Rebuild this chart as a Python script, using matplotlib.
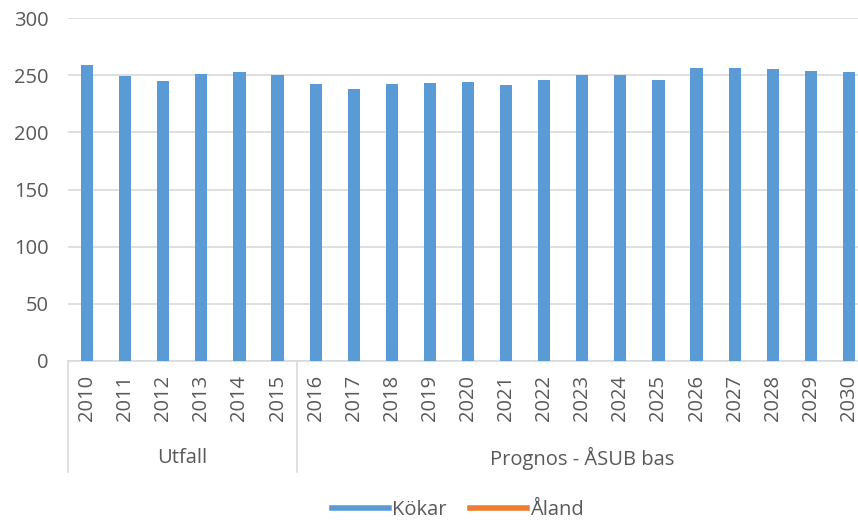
import matplotlib.pyplot as plt
from matplotlib.lines import Line2D
import matplotlib.transforms as mtransforms

# data
years = [str(y) for y in range(2010, 2031)]
kokar = [259, 249, 245, 251, 253, 250, 242, 238, 242, 243, 244,
         241, 246, 250, 250, 246, 256, 256, 255, 254, 253]
groups = ["Utfall", "Prognos - ÅSUB bas"]
group_sizes = [6, 15]
yticks = [0, 50, 100, 150, 200, 250, 300]

blue = "#5B9BD5"
orange = "#ED7D31"
grey_txt = "#595959"
grid_col = "#D9D9D9"
fs = 14.5

plt.rcParams['font.family'] = ['Open Sans', 'DejaVu Sans']

fig = plt.figure(figsize=(8.58, 5.22), dpi=100)
# right edge of the plot runs past the picture, as in the reference
ax = fig.add_axes([68 / 858, 1 - 361 / 522, 800 / 858, 343 / 522])

x = list(range(len(years)))
ax.bar(x, kokar, width=0.32, color=blue, zorder=3)

ax.set_xlim(-0.5, len(years) - 0.5)
ax.set_ylim(0, 300)
ax.set_yticks(yticks)
ax.set_yticklabels([str(t) for t in yticks], fontsize=fs, color=grey_txt)
ax.yaxis.grid(True, color=grid_col, linewidth=1.2, zorder=0)
ax.tick_params(axis='y', length=0, pad=14)
ax.tick_params(axis='x', length=0)
ax.set_xticks([])
for s in ["left", "right", "top"]:
    ax.spines[s].set_visible(False)
ax.spines["bottom"].set_color(grid_col)
ax.spines["bottom"].set_linewidth(1.2)

# two-level category axis
trans = mtransforms.blended_transform_factory(ax.transData, fig.transFigure)
for i, yr in enumerate(years):
    ax.text(i, 1 - 375 / 522, yr, transform=trans, rotation=90,
            ha="center", va="top", fontsize=fs, color=grey_txt)

start = 0
bounds = [-0.5]
for g, n in zip(groups, group_sizes):
    mid = start + (n - 1) / 2
    ax.text(mid, 1 - 458 / 522, g, transform=trans, ha="center",
            va="center", fontsize=fs, color=grey_txt)
    start += n
    bounds.append(start - 0.5)
for b in bounds:
    ax.add_line(Line2D([b, b], [1 - 361 / 522, 1 - 472 / 522], transform=trans,
                       color=grid_col, linewidth=1.2, clip_on=False))

handles = [Line2D([], [], color=blue, linewidth=4),
           Line2D([], [], color=orange, linewidth=4)]
fig.legend(handles, ["Kökar", "Åland"], loc="center", bbox_to_anchor=(458 / 858, 1 - 510 / 522),
           ncol=2, frameon=False, fontsize=fs, handlelength=2.8, handletextpad=0.15,
           columnspacing=1.2, labelcolor=grey_txt)

fig.savefig("out.png", dpi=100)
